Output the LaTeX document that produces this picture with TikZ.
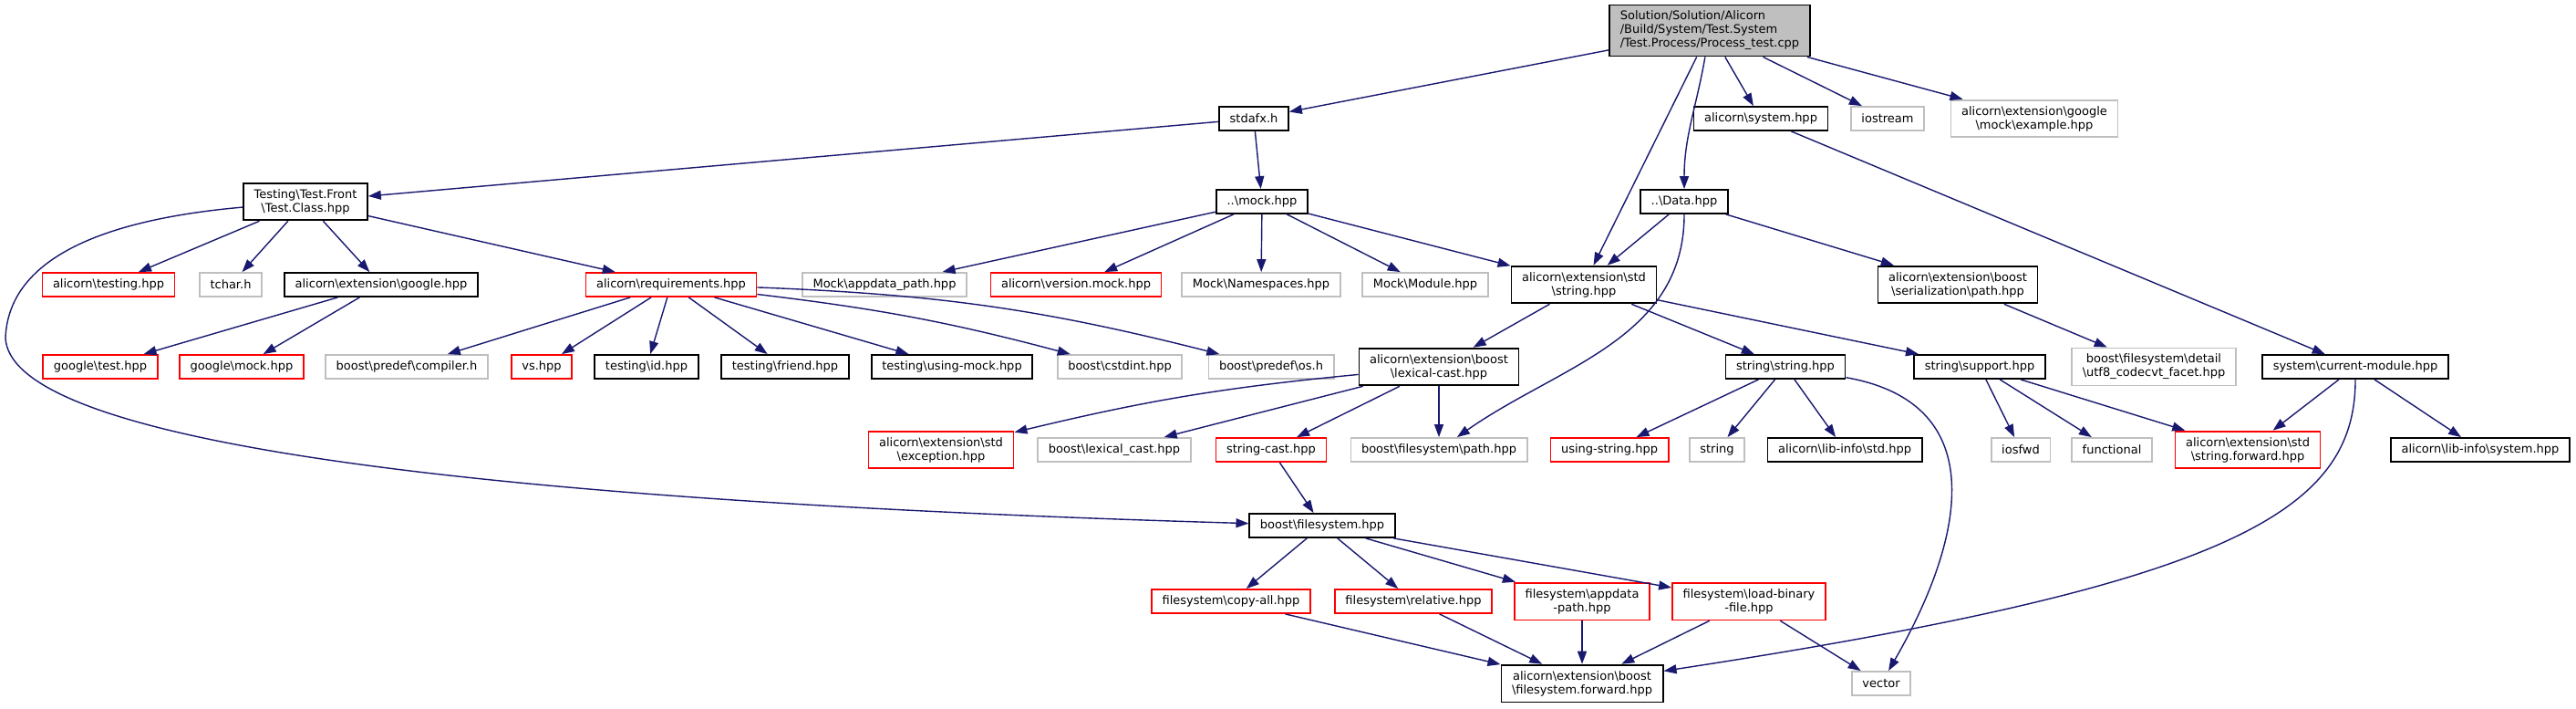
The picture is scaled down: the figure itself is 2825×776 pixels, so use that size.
\documentclass[tikz,border=0pt]{standalone}
\usepackage{fontspec}
\setmainfont{DejaVu Sans}
\usepackage{tikz}
\usetikzlibrary{arrows.meta}
\definecolor{edgeblue}{HTML}{191970}
\definecolor{sysgrey}{HTML}{BFBFBF}
\newcommand{\psep}{\textbackslash}

\begin{document}
\begin{tikzpicture}[
    x=0.5pt, y=-0.5pt,
    box/.style={
      draw,
      fill=white,
      line width=0.9pt,
      align=center,
      font=\fontsize{6.5pt}{7.5pt}\selectfont,
      inner xsep=5.8pt,
      inner ysep=3.3pt,
      minimum height=13pt
    },
    doc/.style={box, draw=black},
    missing/.style={box, draw=red},
    sys/.style={box, draw=sysgrey},
    arrow/.style={-{Triangle[length=7pt, width=5pt]}, draw=edgeblue, line width=0.7pt}
  ]
    \path[use as bounding box, fill=white] (0,0) rectangle (2825,776);

    \node[doc, fill=sysgrey, align=left] (root) at (1875,33.5) {Solution/Solution/Alicorn\\/Build/System/Test.System\\/Test.Process/Process\_test.cpp};

    \node[doc] (stdafx) at (1375,130) {stdafx.h};
    \node[doc] (syshpp) at (1931,130) {alicorn\psep system.hpp};
    \node[sys] (iostream) at (2070,130) {iostream};
    \node[sys] (example) at (2231,130) {alicorn\psep extension\psep google\\\psep mock\psep example.hpp};

    \node[doc] (testclass) at (335,221) {Testing\psep Test.Front\\\psep Test.Class.hpp};
    \node[doc] (mockhpp) at (1384,221) {..\psep mock.hpp};
    \node[doc] (data) at (1847,221) {..\psep Data.hpp};

    \node[missing] (testing) at (119,312) {alicorn\psep testing.hpp};
    \node[sys] (tchar) at (253,312) {tchar.h};
    \node[doc] (google) at (418,312) {alicorn\psep extension\psep google.hpp};
    \node[missing] (requirements) at (736,312) {alicorn\psep requirements.hpp};
    \node[sys] (appdatapath) at (970,312) {Mock\psep appdata\_path.hpp};
    \node[missing] (versionmock) at (1180,312) {alicorn\psep version.mock.hpp};
    \node[sys] (namespaces) at (1383,312) {Mock\psep Namespaces.hpp};
    \node[sys] (module) at (1563,312) {Mock\psep Module.hpp};
    \node[doc] (stdstring) at (1737,312) {alicorn\psep extension\psep std\\\psep string.hpp};
    \node[doc] (serialpath) at (2147,312) {alicorn\psep extension\psep boost\\\psep serialization\psep path.hpp};

    \node[missing] (googletest) at (110,402) {google\psep test.hpp};
    \node[missing] (googlemock) at (265,402) {google\psep mock.hpp};
    \node[sys] (compiler) at (446,402) {boost\psep predef\psep compiler.h};
    \node[missing] (vs) at (594,402) {vs.hpp};
    \node[doc] (testingid) at (709,402) {testing\psep id.hpp};
    \node[doc] (friend) at (861,402) {testing\psep friend.hpp};
    \node[doc] (usingmock) at (1044,402) {testing\psep using-mock.hpp};
    \node[sys] (cstdint) at (1228,402) {boost\psep cstdint.hpp};
    \node[sys] (predefos) at (1394,402) {boost\psep predef\psep os.h};
    \node[doc] (lexicalcast) at (1578,402) {alicorn\psep extension\psep boost\\\psep lexical-cast.hpp};
    \node[doc] (strstring) at (1958,402) {string\psep string.hpp};
    \node[doc] (strsupport) at (2171,402) {string\psep support.hpp};
    \node[sys] (utfacet) at (2362,402) {boost\psep filesystem\psep detail\\\psep utf8\_codecvt\_facet.hpp};
    \node[doc] (curmodule) at (2583,402) {system\psep current-module.hpp};

    \node[missing] (exception) at (1032,493) {alicorn\psep extension\psep std\\\psep exception.hpp};
    \node[sys] (boostlexcast) at (1222,493) {boost\psep lexical\_cast.hpp};
    \node[missing] (stringcast) at (1394,493) {string-cast.hpp};
    \node[sys] (fspath) at (1578,493) {boost\psep filesystem\psep path.hpp};
    \node[missing] (usingstring) at (1765,493) {using-string.hpp};
    \node[sys] (string) at (1883,493) {string};
    \node[doc] (libinfostd) at (2023,493) {alicorn\psep lib-info\psep std.hpp};
    \node[sys] (iosfwd) at (2216,493) {iosfwd};
    \node[sys] (functional) at (2316,493) {functional};
    \node[missing] (strforward) at (2465,493) {alicorn\psep extension\psep std\\\psep string.forward.hpp};
    \node[doc] (libinfosys) at (2720,493) {alicorn\psep lib-info\psep system.hpp};

    \node[doc] (filesystem) at (1450,576) {boost\psep filesystem.hpp};

    \node[missing] (copyall) at (1350,659) {filesystem\psep copy-all.hpp};
    \node[missing] (relative) at (1550,659) {filesystem\psep relative.hpp};
    \node[missing] (appdata) at (1735,659) {filesystem\psep appdata\\-path.hpp};
    \node[missing] (loadbinary) at (1918,659) {filesystem\psep load-binary\\-file.hpp};

    \node[doc] (fsforward) at (1735,749) {alicorn\psep extension\psep boost\\\psep filesystem.forward.hpp};
    \node[sys] (vector) at (2063,749) {vector};

    \draw[arrow] (root) -- (stdafx);
    \draw[arrow] (root) -- (syshpp);
    \draw[arrow] (root) -- (iostream);
    \draw[arrow] (root) -- (example);
    \draw[arrow] (root) -- (stdstring);
    \draw[arrow] (root) to[out=-100, in=90] (data);

    \draw[arrow] (stdafx) -- (testclass);
    \draw[arrow] (stdafx) -- (mockhpp);
    \draw[arrow] (syshpp) -- (curmodule);

    \draw[arrow] (testclass) -- (testing);
    \draw[arrow] (testclass) -- (tchar);
    \draw[arrow] (testclass) -- (google);
    \draw[arrow] (testclass) -- (requirements);
    \draw[arrow] (testclass) .. controls (120,240) and (10,280) .. (6,370)
      .. controls (10,470) and (400,545) .. (filesystem);

    \draw[arrow] (google) -- (googletest);
    \draw[arrow] (google) -- (googlemock);

    \draw[arrow] (requirements) -- (compiler);
    \draw[arrow] (requirements) -- (vs);
    \draw[arrow] (requirements) -- (testingid);
    \draw[arrow] (requirements) -- (friend);
    \draw[arrow] (requirements) -- (usingmock);
    \draw[arrow] (requirements) to[bend left=4] (cstdint);
    \draw[arrow] (requirements) to[bend left=6] (predefos);

    \draw[arrow] (mockhpp) -- (appdatapath);
    \draw[arrow] (mockhpp) -- (versionmock);
    \draw[arrow] (mockhpp) -- (namespaces);
    \draw[arrow] (mockhpp) -- (module);
    \draw[arrow] (mockhpp) -- (stdstring);

    \draw[arrow] (data) -- (stdstring);
    \draw[arrow] (data) -- (serialpath);
    \draw[arrow] (data) to[out=-90, in=35] (fspath);

    \draw[arrow] (stdstring) -- (lexicalcast);
    \draw[arrow] (stdstring) -- (strstring);
    \draw[arrow] (stdstring) -- (strsupport);
    \draw[arrow] (serialpath) -- (utfacet);

    \draw[arrow] (lexicalcast) to[bend right=4] (exception);
    \draw[arrow] (lexicalcast) -- (boostlexcast);
    \draw[arrow] (lexicalcast) -- (stringcast);
    \draw[arrow] (lexicalcast) -- (fspath);

    \draw[arrow] (strstring) -- (usingstring);
    \draw[arrow] (strstring) -- (string);
    \draw[arrow] (strstring) -- (libinfostd);
    \draw[arrow] (strstring) to[out=-10, in=60, looseness=1.3] (vector);

    \draw[arrow] (strsupport) -- (iosfwd);
    \draw[arrow] (strsupport) -- (functional);
    \draw[arrow] (strsupport) -- (strforward);

    \draw[arrow] (curmodule) -- (strforward);
    \draw[arrow] (curmodule) -- (libinfosys);
    \draw[arrow] (curmodule) .. controls (2583,560) and (2450,640) .. (fsforward);

    \draw[arrow] (stringcast) -- (filesystem);
    \draw[arrow] (filesystem) -- (copyall);
    \draw[arrow] (filesystem) -- (relative);
    \draw[arrow] (filesystem) -- (appdata);
    \draw[arrow] (filesystem) -- (loadbinary);

    \draw[arrow] (copyall) -- (fsforward);
    \draw[arrow] (relative) -- (fsforward);
    \draw[arrow] (appdata) -- (fsforward);
    \draw[arrow] (loadbinary) -- (fsforward);
    \draw[arrow] (loadbinary) -- (vector);
  \end{tikzpicture}
\end{document}
